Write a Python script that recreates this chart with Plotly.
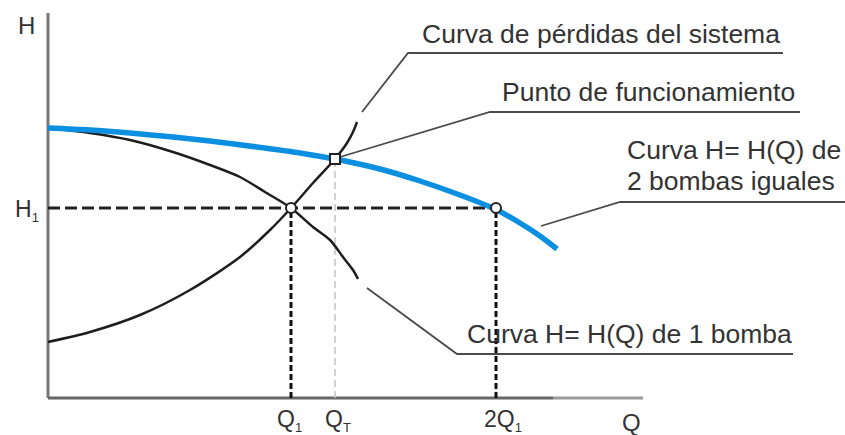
import plotly.graph_objects as go

# ---- data (arbitrary schematic units: Q horizontal, H vertical) ----
q_two_pumps = [0, 42, 82, 125, 162, 209, 252, 287, 332, 372, 412, 449, 472, 492, 509]
h_two_pumps = [270, 268, 265, 261, 257, 251, 245, 239, 229, 217, 203, 188, 175, 162, 149]

q_one_pump = [0, 42, 82, 125, 162, 192, 217, 243, 265, 282, 295, 305, 310]
h_one_pump = [270, 265, 258, 246, 233, 221, 206, 190, 171, 158, 141, 128, 119]

q_system = [0, 42, 92, 142, 192, 222, 243, 265, 287, 299, 305, 309]
h_system = [56, 66, 83, 108, 141, 168, 190, 215, 239, 255, 266, 276]

Q1, H1 = 243, 190
QT, HT = 287, 239
Q2 = 448

q_axis_max, h_axis_max = 595, 385

# leader lines (label callouts)
leader_system_q = [314, 360, 735]
leader_system_h = [286, 345, 345]
leader_point_q = [292, 442, 752]
leader_point_h = [241, 286, 286]
leader_two_q = [493, 572, 797]
leader_two_h = [172, 196, 196]
leader_one_q = [319, 409, 745]
leader_one_h = [110, 44, 44]

labels = {
    "system": "Curva de pérdidas del sistema",
    "point": "Punto de funcionamiento",
    "two_1": "Curva H= H(Q) de",
    "two_2": "2 bombas iguales",
    "one": "Curva H= H(Q) de 1 bomba",
}

FONT = "Liberation Sans, Arial, sans-serif"
TXT = "#333333"
LEAD = "#4a4a4a"
BLUE = "#0b8fe0"

fig = go.Figure()

def line(x, y, color, width, dash=None, shape="linear"):
    fig.add_trace(go.Scatter(
        x=x, y=y, mode="lines", hoverinfo="skip", showlegend=False,
        line=dict(color=color, width=width, dash=dash, shape=shape, smoothing=0.8)))

# axes
line([0, 0], [0, h_axis_max], "#777777", 3)
line([0, 505], [0, 0], "#666666", 3)
line([505, q_axis_max], [0, 0], "#9a9a9a", 3)

# reference dashed lines
line([QT, QT], [0, HT], "#c4c4c4", 1.5, dash="7px,4px")
line([0, Q2], [H1, H1], "#222222", 3, dash="12px,5px")
line([Q1, Q1], [0, H1], "#111111", 3, dash="6px,3px")
line([Q2, Q2], [0, H1], "#111111", 3, dash="6px,3px")

# leader lines
for lq, lh in [(leader_system_q, leader_system_h), (leader_point_q, leader_point_h),
               (leader_two_q, leader_two_h), (leader_one_q, leader_one_h)]:
    line(lq, lh, LEAD, 1.8)

# curves
line(q_one_pump, h_one_pump, "#1e1e1e", 2.5, shape="spline")
line(q_system, h_system, "#1e1e1e", 2.5, shape="spline")
line(q_two_pumps, h_two_pumps, BLUE, 5.5, shape="spline")

# points
fig.add_trace(go.Scatter(
    x=[Q1, Q2], y=[H1, H1], mode="markers", hoverinfo="skip", showlegend=False,
    marker=dict(symbol="circle", size=10, color="white", line=dict(color="#222222", width=2))))
fig.add_trace(go.Scatter(
    x=[QT], y=[HT], mode="markers", hoverinfo="skip", showlegend=False,
    marker=dict(symbol="square", size=10, color="white", line=dict(color="#222222", width=2))))

def text(x, y, s, size=26.5, xanchor="left"):
    fig.add_annotation(x=x, y=y, text=s, showarrow=False, xref="x", yref="y",
                       xanchor=xanchor, yanchor="middle",
                       font=dict(family=FONT, size=size, color=TXT))

SUB = "<sub><span style='font-size:13px'>{}</span></sub>"

text(372, 364, labels["system"])
text(452, 306, labels["point"])
text(577, 248, labels["two_1"])
text(577, 217, labels["two_2"])
text(417, 64, labels["one"])

text(-22, 373, "H", size=24, xanchor="center")
text(-35, 188, "H" + SUB.format("1"), size=23)
text(227, -22, "Q" + SUB.format("1"), size=23)
text(275, -22, "Q" + SUB.format("T"), size=23)
text(434, -22, "2Q" + SUB.format("1"), size=23)
text(572, -24, "Q", size=24)

fig.update_layout(
    width=845, height=435,
    margin=dict(l=0, r=0, t=0, b=0),
    paper_bgcolor="white", plot_bgcolor="white",
    xaxis=dict(range=[-48, 797], visible=False, fixedrange=True),
    yaxis=dict(range=[-37, 398], visible=False, fixedrange=True),
    showlegend=False,
)

fig.write_html(
    "out.html",
    config={"displayModeBar": False},
    post_script="document.body.style.margin='0';document.body.style.overflow='hidden';",
)
